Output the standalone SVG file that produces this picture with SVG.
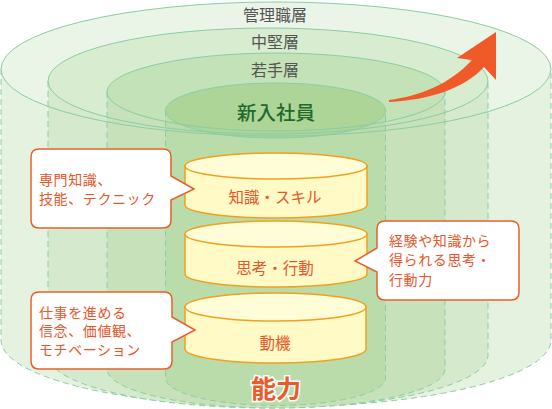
<svg xmlns="http://www.w3.org/2000/svg" width="552" height="409" viewBox="0 0 552 409">
<style>
  .side{stroke:#8ccca4;stroke-width:1;stroke-dasharray:6 4}
  .rim{fill:none;stroke:#8ccca4;stroke-width:1}
  .lay{font-family:'Noto Sans CJK JP','Noto Sans',sans-serif;font-size:16px;fill:#555555;text-anchor:middle}
  .disc{fill:#fffac6;stroke:#f2a11f;stroke-width:1.5}
  .disctop{fill:#fffcd8;stroke:#f2a11f;stroke-width:1.5}
  .dl{font-family:'Noto Sans CJK JP','Noto Sans',sans-serif;font-size:15.5px;fill:#e8562a;text-anchor:middle}
  .call{fill:#ffffff;stroke:#e8602c;stroke-width:1.5}
  .ct{font-family:'Noto Sans CJK JP','Noto Sans',sans-serif;font-size:14px;letter-spacing:0.6px;fill:#e8562a}
</style>
<rect width="552" height="409" fill="#ffffff"/>
<g id="layer-manager">
  <path class="side" d="M1,69 V340 A275 67 0 0 0 551 340 V69 Z" fill="#e6f2e0"/>
  <ellipse cx="276" cy="69" rx="275" ry="67" fill="#ebf5e7"/>
</g>
<g id="layer-middle">
  <path class="side" d="M48,81 V355 A220 53 0 0 0 488 355 V81 Z" fill="#d5e9cc"/>
  <ellipse cx="268" cy="81" rx="220" ry="53" fill="#d8ecd0"/>
</g>
<g id="layer-young">
  <path class="side" d="M107,92 V369 A169 39 0 0 0 445 369 V92 Z" fill="#c7e2bb"/>
  <ellipse cx="276" cy="92" rx="169" ry="39" fill="#c4e2b7"/>
</g>
<g id="layer-new">
  <path class="side" d="M165.5,110.5 V378 A110 27.5 0 0 0 385.5 378 V110.5 Z" fill="#badbaa"/>
  <ellipse cx="275.5" cy="110.5" rx="110" ry="27.5" fill="#acd597"/>
</g>
<g id="rims">
  <ellipse class="rim" cx="276" cy="69" rx="275" ry="67"/>
  <ellipse class="rim" cx="268" cy="81" rx="220" ry="53"/>
  <ellipse class="rim" cx="276" cy="92" rx="169" ry="39"/>
  <ellipse class="rim" cx="275.5" cy="110.5" rx="110" ry="27.5"/>
</g>
<g id="layer-labels">
  <text class="lay" x="275" y="21">管理職層</text>
  <text class="lay" x="275" y="48">中堅層</text>
  <text class="lay" x="275" y="76">若手層</text>
  <text x="276" y="119.5" font-family="'Noto Sans CJK JP','Noto Sans',sans-serif" font-size="19.5" font-weight="500" fill="#23692b" text-anchor="middle">新入社員</text>
</g>
<g id="growth-arrow">
  <path d="M389,100 C420,96 450,84 472,60 L457,58 L496,32 L496,80 L484,67 C465,88 430,100 389,102 Z" fill="#f05a28"/>
</g>
<g id="disc-knowledge">
  <path class="disc" d="M185,166 V205 A91 13 0 0 0 367 205 V166 Z"/>
  <ellipse class="disctop" cx="276" cy="166" rx="91" ry="13"/>
  <text class="dl" x="275" y="203">知識・スキル</text>
</g>
<g id="disc-thinking">
  <path class="disc" d="M185,234 V274 A91 13 0 0 0 367 274 V234 Z"/>
  <ellipse class="disctop" cx="276" cy="234" rx="91" ry="13"/>
  <text class="dl" x="275" y="274">思考・行動</text>
</g>
<g id="disc-motive">
  <path class="disc" d="M185,307 V349 A90.5 14 0 0 0 366 349 V307 Z"/>
  <ellipse class="disctop" cx="275.5" cy="307" rx="90.5" ry="14"/>
  <text class="dl" x="275" y="349">動機</text>
</g>
<g id="callout-knowledge">
  <path class="call" d="M39,149 H163 Q171,149 171,157 V176 L194,189 L171,200 V220 Q171,228 163,228 H39 Q31,228 31,220 V157 Q31,149 39,149 Z"/>
  <text class="ct" x="39" y="184.5">専門知識、</text>
  <text class="ct" x="39" y="203.5">技能、テクニック</text>
</g>
<g id="callout-thinking">
  <path class="call" d="M385,221 H511 Q519,221 519,229 V292 Q519,300 511,300 H385 Q377,300 377,292 V272 L355,261 L377,248 V229 Q377,221 385,221 Z"/>
  <text class="ct" x="389" y="245.5">経験や知識から</text>
  <text class="ct" x="389" y="265">得られる思考・</text>
  <text class="ct" x="389" y="284.5">行動力</text>
</g>
<g id="callout-motive">
  <path class="call" d="M39,292 H164 Q172,292 172,300 V317 L195,330 L172,342 V361 Q172,369 164,369 H39 Q31,369 31,361 V300 Q31,292 39,292 Z"/>
  <text class="ct" x="39" y="317.5">仕事を進める</text>
  <text class="ct" x="39" y="336.3">信念、価値観、</text>
  <text class="ct" x="39" y="355">モチベーション</text>
</g>
<g id="ability-label">
  <text x="276" y="397.5" font-family="'Noto Sans CJK JP','Noto Sans',sans-serif" font-size="25" font-weight="bold" fill="#ec5a29" stroke="#ffffff" stroke-width="3" paint-order="stroke" text-anchor="middle">能力</text>
</g>
</svg>
